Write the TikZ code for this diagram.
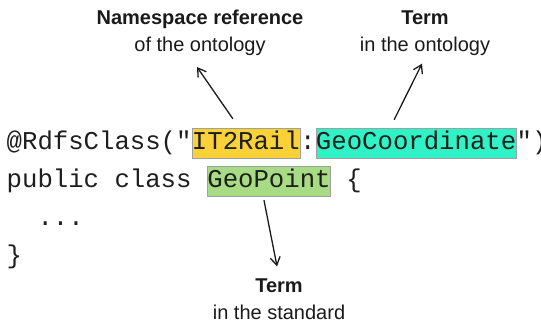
\documentclass[tikz,border=0pt]{standalone}
\usepackage{fontspec}
\setmainfont{Liberation Sans}
\setmonofont{Liberation Mono}
\usetikzlibrary{arrows.meta}

\begin{document}
\begin{tikzpicture}[x=1pt, y=-1pt]
    % Define code size and line positions
    \def\codeSize{25.67}
    \def\charWidth{15.4}
    \def\codeLeft{6.5}

    \definecolor{codeColour}{HTML}{1E1E1E}
    \definecolor{noteColour}{HTML}{1A1A1A}
    \definecolor{nsColour}{HTML}{FAD137}
    \definecolor{termColour}{HTML}{2FF3C6}
    \definecolor{stdColour}{HTML}{A8DC84}
    \definecolor{borderColour}{HTML}{A0A0A0}

    \tikzset{
        codeText/.style={anchor=base west, inner sep=0pt, text=codeColour,
            font=\fontsize{\codeSize}{30}\ttfamily},
        highlight/.style={codeText, fill=#1, draw=borderColour, line width=0.4pt,
            inner ysep=1pt, text height=20pt, text depth=8pt},
        noteText/.style={align=center, inner sep=0pt, text=noteColour,
            font=\fontsize{20}{27}\selectfont},
        pointer/.style={-{Straight Barb[length=8pt, width=10pt]}, line width=1.3pt,
            draw=noteColour}
    }

    % Fix the page size
    \useasboundingbox (0,0) rectangle (541,322);

    % Draw the annotated class, one line at a time
    \node[codeText] (annot) at (\codeLeft,149) {@RdfsClass("};
    \node[highlight=nsColour] (ns) at (annot.base east) {IT2Rail};
    \node[codeText] (colon) at (ns.base east) {:};
    \node[highlight=termColour] (term) at (colon.base east) {GeoCoordinate};
    \node[codeText] (quoteClose) at (term.base east) {")};

    \node[codeText] (decl) at (\codeLeft,187) {public class};
    \node[highlight=stdColour] (std) at ([xshift=\charWidth]decl.base east) {GeoPoint};
    \node[codeText] (braceOpen) at ([xshift=\charWidth]std.base east) {\{};

    \node[codeText] (body) at (\codeLeft+2*\charWidth,225) {...};
    \node[codeText] (braceClose) at (\codeLeft,263) {\}};

    % Notes above and below the code
    \node[noteText] (nsNote) at (200,33) {\textbf{Namespace reference}\\of the ontology};
    \node[noteText] (termNote) at (425,33) {\textbf{Term}\\in the ontology};
    \node[noteText] (stdNote) at (279,299) {\textbf{Term}\\in the standard};

    % Draw the arrows
    \draw[pointer] ([shift={(-13,-9)}]ns.north) -- ([shift={(-3,11)}]nsNote.south);
    \draw[pointer] ([shift={(-22,-8)}]term.north) -- ([shift={(-3,8)}]termNote.south);
    \draw[pointer] ([shift={(-5,4)}]std.south) -- ([shift={(-2,-12)}]stdNote.north);

\end{tikzpicture}
\end{document}
